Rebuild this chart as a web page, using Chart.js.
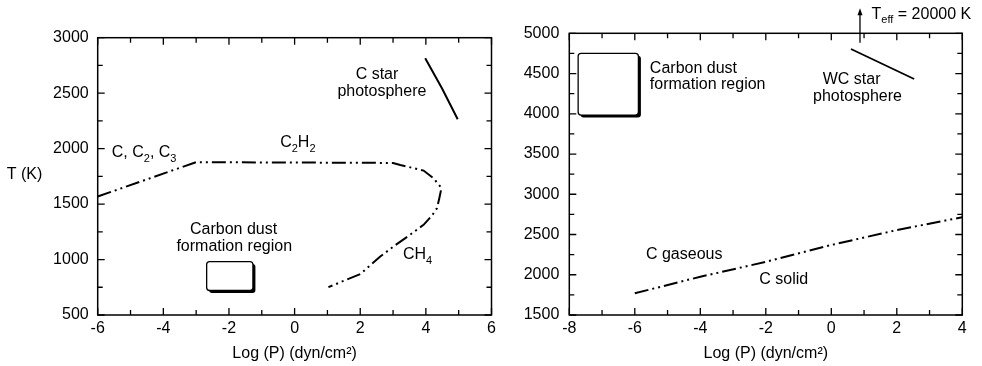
<!DOCTYPE html>
<html><head><meta charset="utf-8">
<script src="https://cdn.jsdelivr.net/npm/chart.js@4/dist/chart.umd.min.js"></script>
<style>
html,body{margin:0;padding:0;background:#fff;}
#wrap{position:relative;width:982px;height:366px;overflow:hidden;background:#fff;}
.c{position:absolute;top:0;height:366px;}
#c1{left:0;width:500px;}
#c2{left:500px;width:482px;}
</style></head><body>
<div id="wrap">
  <div class="c" id="c1"><canvas id="leftChart"></canvas></div>
  <div class="c" id="c2"><canvas id="rightChart"></canvas></div>
</div>
<script>
// ---------------- data (left panel) ----------------
const leftXRange = [-6, 6];
const leftYRange = [500, 3000];
// C, C2, C3 -> C2H2 -> CH4 boundary (one continuous dash-dot-dot curve)
const phaseLogP = [-6, -3, 3.0, 3.22, 3.93, 4.23, 4.44, 4.47, 4.41, 4.34, 4.18, 3.93, 3.47, 3.01, 2.61, 2.0, 1.03];
const phaseT    = [1568, 1878, 1871, 1853, 1802, 1733, 1658, 1637, 1553, 1463, 1394, 1313, 1213, 1117, 1027, 869, 751];
// C star photosphere (solid)
const cStarLogP = [3.98, 4.49, 4.97];
const cStarT    = [2814, 2544, 2265];
// carbon dust formation region box (left panel)
const leftBoxLogP = [-2.68, -1.27];
const leftBoxT    = [721, 982];

// ---------------- data (right panel) ----------------
const rightXRange = [-8, 4];
const rightYRange = [1500, 5000];
// C gaseous / C solid boundary
const gasSolidLogP = [-6, -4, -2, 0, 2, 4];
const gasSolidT    = [1770, 1975, 2160, 2370, 2555, 2715];
// WC star photosphere (solid)
const wcLogP = [0.6, 2.53];
const wcT    = [4805, 4432];
// carbon dust formation region box (right panel)
const rightBoxLogP = [-7.73, -5.89];
const rightBoxT    = [3984, 4751];
// T_eff = 20000 K arrow
const teffLogP = 0.876;
const teffT    = [4883, 5311];

// tick settings
const leftXStep = 2, leftYStep = 500;
const rightXStep = 2, rightYStep = 500;

const FONT = "'Liberation Sans', Arial, Helvetica, sans-serif";
Chart.defaults.font.family = FONT;
Chart.defaults.font.size = 16;
Chart.defaults.color = '#000';

function pts(xs, ys) { return xs.map((v, i) => ({x: v, y: ys[i]})); }

function roundRect(ctx, x, y, w, h, r) {
  ctx.beginPath();
  ctx.moveTo(x + r, y);
  ctx.lineTo(x + w - r, y);
  ctx.quadraticCurveTo(x + w, y, x + w, y + r);
  ctx.lineTo(x + w, y + h - r);
  ctx.quadraticCurveTo(x + w, y + h, x + w - r, y + h);
  ctx.lineTo(x + r, y + h);
  ctx.quadraticCurveTo(x, y + h, x, y + h - r);
  ctx.lineTo(x, y + r);
  ctx.quadraticCurveTo(x, y, x + r, y);
  ctx.closePath();
}

function drawRich(ctx, px, py, parts, align) {
  const big = "16px " + FONT, small = "11px " + FONT;
  let w = 0;
  parts.forEach(p => { ctx.font = p[1] ? small : big; w += ctx.measureText(p[0]).width; });
  let cx = align === 'center' ? px - w / 2 : (align === 'right' ? px - w : px);
  ctx.textAlign = 'left';
  ctx.textBaseline = 'middle';
  parts.forEach(p => {
    ctx.font = p[1] ? small : big;
    ctx.fillText(p[0], cx, p[1] ? py + 6 : py);
    cx += ctx.measureText(p[0]).width;
  });
}

const decorPlugin = {
  id: 'decor',
  afterDraw(chart, args, o) {
    const {ctx, chartArea: a, scales: {x, y}} = chart;
    ctx.save();
    ctx.fillStyle = '#000';
    ctx.strokeStyle = '#000';
    // boxes
    (o.boxes || []).forEach(b => {
      const x0 = x.getPixelForValue(b.xs[0]), x1 = x.getPixelForValue(b.xs[1]);
      const y0 = y.getPixelForValue(b.ys[1]), y1 = y.getPixelForValue(b.ys[0]);
      ctx.fillStyle = '#000';
      roundRect(ctx, x0 + 2.5, y0 + 2.5, x1 - x0, y1 - y0, 3); ctx.fill();
      ctx.fillStyle = '#fff';
      roundRect(ctx, x0, y0, x1 - x0, y1 - y0, 3); ctx.fill();
      ctx.lineWidth = 1.3; ctx.stroke();
    });
    // frame
    ctx.lineWidth = 1.5;
    ctx.strokeRect(a.left, a.top, a.right - a.left, a.bottom - a.top);
    // inside ticks
    ctx.lineWidth = 1.3;
    ctx.beginPath();
    for (let v = x.min; v <= x.max + 1e-9; v += o.xMinor) {
      const p = x.getPixelForValue(v);
      const major = Math.abs(v / o.xMajor - Math.round(v / o.xMajor)) < 1e-6;
      const L = major ? 7 : 5;
      ctx.moveTo(p, a.bottom); ctx.lineTo(p, a.bottom - L);
      ctx.moveTo(p, a.top); ctx.lineTo(p, a.top + L);
    }
    for (let v = y.min; v <= y.max + 1e-9; v += o.yMinor) {
      const p = y.getPixelForValue(v);
      const major = Math.abs(v / o.yMajor - Math.round(v / o.yMajor)) < 1e-6;
      const L = major ? 7 : 5;
      ctx.moveTo(a.left, p); ctx.lineTo(a.left + L, p);
      ctx.moveTo(a.right, p); ctx.lineTo(a.right - L, p);
    }
    ctx.stroke();
    // arrow
    if (o.arrow) {
      const px = x.getPixelForValue(o.arrow.x);
      const pa = y.getPixelForValue(o.arrow.ys[0]), pb = y.getPixelForValue(o.arrow.ys[1]);
      ctx.lineWidth = 1.3;
      ctx.beginPath(); ctx.moveTo(px, pa); ctx.lineTo(px, pb + 5); ctx.stroke();
      ctx.fillStyle = '#000';
      ctx.beginPath(); ctx.moveTo(px, pb); ctx.lineTo(px - 2.5, pb + 7); ctx.lineTo(px + 2.5, pb + 7); ctx.closePath(); ctx.fill();
    }
    // labels
    ctx.fillStyle = '#000';
    (o.texts || []).forEach(t => {
      drawRich(ctx, x.getPixelForValue(t.x), y.getPixelForValue(t.y), t.parts, t.align);
    });
    (o.pixelTexts || []).forEach(t => {
      drawRich(ctx, t.px, t.py, t.parts, t.align);
    });
    ctx.restore();
  }
};

function makeChart(id, cfg) {
  return new Chart(document.getElementById(id), {
    type: 'scatter',
    data: {datasets: cfg.datasets},
    options: {
      responsive: true, maintainAspectRatio: false, animation: false, events: [],
      layout: {padding: cfg.padding},
      plugins: {legend: {display: false}, tooltip: {enabled: false}, decor: cfg.decor},
      elements: {point: {radius: 0}},
      scales: {
        x: {
          type: 'linear', min: cfg.xRange[0], max: cfg.xRange[1],
          grid: {display: false, drawTicks: false}, border: {display: false},
          ticks: {stepSize: cfg.xStep, padding: 4, maxRotation: 0, autoSkip: false, color: '#000',
                  callback: v => String(v)},
          title: {display: true, text: 'Log (P) (dyn/cm²)', color: '#000', padding: {top: 0, bottom: 3}},
          afterFit: s => { s.height = 51; }
        },
        y: {
          type: 'linear', min: cfg.yRange[0], max: cfg.yRange[1],
          grid: {display: false, drawTicks: false}, border: {display: false},
          ticks: {stepSize: cfg.yStep, padding: cfg.yPad, color: '#000', callback: v => String(v)},
          afterFit: s => { s.width = cfg.yWidth; }
        }
      }
    },
    plugins: [decorPlugin]
  });
}

const dashDotDot = [14, 4, 2, 4, 2, 4];

makeChart('leftChart', {
  xRange: leftXRange, yRange: leftYRange, xStep: leftXStep, yStep: leftYStep,
  padding: {left: 0, top: 37.7, right: 8.5, bottom: 0},
  yWidth: 97.7, yPad: 9,
  datasets: [
    {data: pts(phaseLogP, phaseT), showLine: true, borderColor: '#000', borderWidth: 2, borderDash: dashDotDot, tension: 0, pointRadius: 0},
    {data: pts(cStarLogP, cStarT), showLine: true, borderColor: '#000', borderWidth: 2, tension: 0, pointRadius: 0}
  ],
  decor: {
    xMinor: 1, xMajor: 2, yMinor: 250, yMajor: 500,
    boxes: [{xs: leftBoxLogP, ys: leftBoxT}],
    texts: [
      {x: -5.57, y: 1965, align: 'left', parts: [['C, C', 0], ['2', 1], [', C', 0], ['3', 1]]},
      {x: -0.44, y: 2050, align: 'left', parts: [['C', 0], ['2', 1], ['H', 0], ['2', 1]]},
      {x: 2.51, y: 2664, align: 'center', parts: [['C star', 0]]},
      {x: 2.66, y: 2514, align: 'center', parts: [['photosphere', 0]]},
      {x: -1.86, y: 1268, align: 'center', parts: [['Carbon dust', 0]]},
      {x: -1.84, y: 1117, align: 'center', parts: [['formation region', 0]]},
      {x: 3.30, y: 1042, align: 'left', parts: [['CH', 0], ['4', 1]]}
    ],
    pixelTexts: [
      {px: 24.5, py: 175, align: 'center', parts: [['T (K)', 0]]}
    ]
  }
});

makeChart('rightChart', {
  xRange: rightXRange, yRange: rightYRange, xStep: rightXStep, yStep: rightYStep,
  padding: {left: 0, top: 33.3, right: 19.7, bottom: 0},
  yWidth: 69.3, yPad: 10,
  datasets: [
    {data: pts(gasSolidLogP, gasSolidT), showLine: true, borderColor: '#000', borderWidth: 2, borderDash: dashDotDot, tension: 0, pointRadius: 0},
    {data: pts(wcLogP, wcT), showLine: true, borderColor: '#000', borderWidth: 1.8, tension: 0, pointRadius: 0}
  ],
  decor: {
    xMinor: 1, xMajor: 2, yMinor: 250, yMajor: 500,
    boxes: [{xs: rightBoxLogP, ys: rightBoxT}],
    arrow: {x: teffLogP, ys: teffT},
    texts: [
      {x: -5.54, y: 4565, align: 'left', parts: [['Carbon dust', 0]]},
      {x: -5.54, y: 4357, align: 'left', parts: [['formation region', 0]]},
      {x: 0.62, y: 4428, align: 'center', parts: [['WC star', 0]]},
      {x: 0.80, y: 4211, align: 'center', parts: [['photosphere', 0]]},
      {x: -5.66, y: 2246, align: 'left', parts: [['C gaseous', 0]]},
      {x: -2.20, y: 1935, align: 'left', parts: [['C solid', 0]]},
      {x: 1.23, y: 5235, align: 'left', parts: [['T', 0], ['eff', 1], [' = 20000 K', 0]]}
    ]
  }
});
</script>
</body></html>
